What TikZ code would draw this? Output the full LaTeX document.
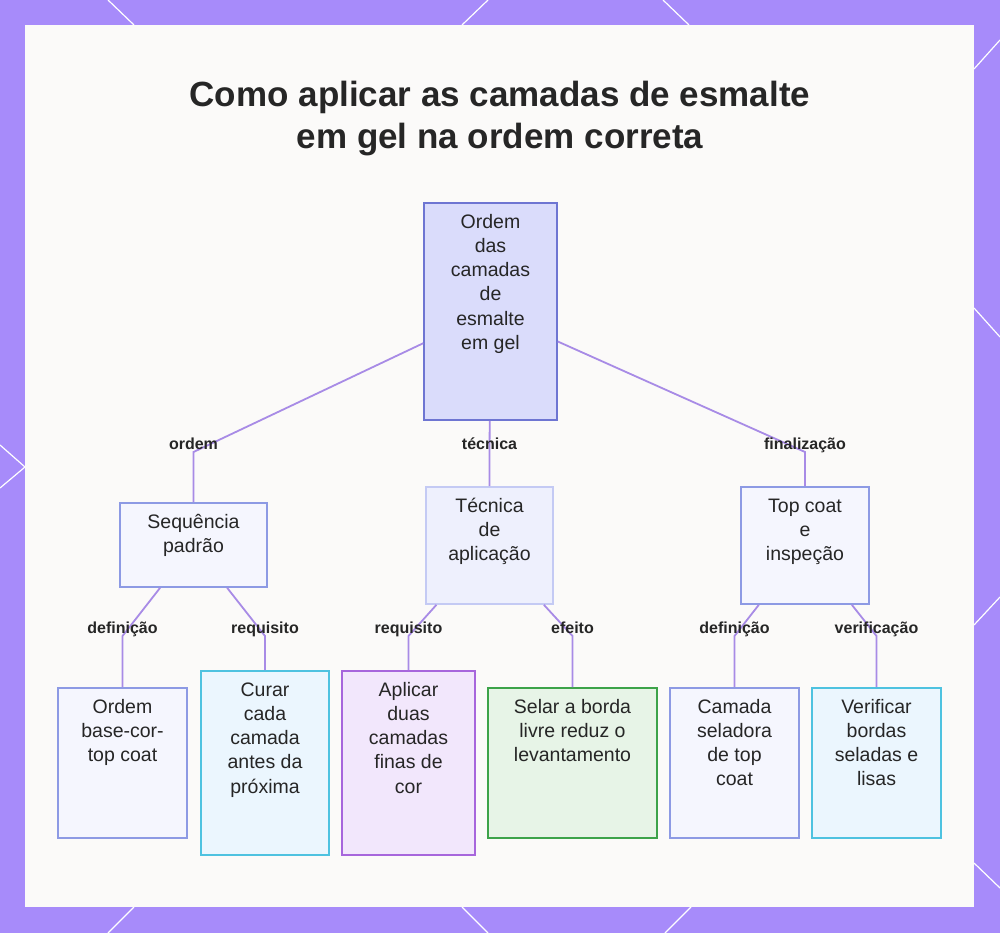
\documentclass[tikz,border=0pt]{standalone}
\usepackage{fontspec}
\setmainfont{Liberation Sans}
\usepackage{xcolor}
\usepackage{tikz}
\usetikzlibrary{positioning,calc}

\definecolor{bgpurple}{HTML}{A78BFA}
\definecolor{panel}{HTML}{FBFAF9}
\definecolor{ink}{HTML}{262626}
\definecolor{linkcol}{HTML}{A88BE6}
\definecolor{rootfill}{HTML}{DADCFB}
\definecolor{rootline}{HTML}{6E75D2}
\definecolor{bluefill}{HTML}{F5F6FE}
\definecolor{blueline}{HTML}{8D9AE4}
\definecolor{palefill}{HTML}{EEF0FD}
\definecolor{paleline}{HTML}{C4CAF4}
\definecolor{cyanfill}{HTML}{EBF6FE}
\definecolor{cyanline}{HTML}{4EC2E0}
\definecolor{violetfill}{HTML}{F2E7FC}
\definecolor{violetline}{HTML}{A766DC}
\definecolor{greenfill}{HTML}{E7F4E7}
\definecolor{greenline}{HTML}{3DA34A}

% text placed at the top of a box of fixed size
\newcommand{\boxtxt}[3]{\parbox[c][#2pt][t]{#1pt}{\centering\rule{0pt}{25pt}#3}}

\begin{document}
\begin{tikzpicture}[
  x=1pt, y=-1pt,
  font=\fontsize{19.5}{24.3}\selectfont,
  box/.style={rectangle, draw, line width=1.6pt, inner sep=0pt, text=ink},
  rootbox/.style={box, fill=rootfill, draw=rootline},
  bluebox/.style={box, fill=bluefill, draw=blueline},
  palebox/.style={box, fill=palefill, draw=paleline},
  cyanbox/.style={box, fill=cyanfill, draw=cyanline},
  violetbox/.style={box, fill=violetfill, draw=violetline},
  greenbox/.style={box, fill=greenfill, draw=greenline},
  lbl/.style={font=\fontsize{16}{18}\selectfont\bfseries, text=ink,
    text height=11.5pt, text depth=3.5pt, yshift=7pt},
  link/.style={draw=linkcol, line width=1.8pt},
  deco/.style={draw=white, line width=1.2pt}
]
\useasboundingbox (0,0) rectangle (1000,933);

% background and panel
\fill[bgpurple] (0,0) rectangle (1000,933);
\draw[deco] (108,0) -- (134,25);
\draw[deco] (488,0) -- (462,25);
\draw[deco] (663,0) -- (689,25);
\draw[deco] (1000,40) -- (974,69);
\draw[deco] (974,308) -- (1000,337);
\draw[deco] (1000,597) -- (974,625);
\draw[deco] (974,863) -- (1000,888);
\draw[deco] (0,445) -- (25,467) -- (0,488);
\draw[deco] (134,907) -- (108,933);
\draw[deco] (462,907) -- (488,933);
\draw[deco] (691,907) -- (665,933);
\fill[panel] (25,25) rectangle (974,907);

\node[font=\fontsize{35}{42}\selectfont\bfseries, text=ink, align=center] (title) at (500,119)
  {Como aplicar as camadas de esmalte\\em gel na ordem correta};

% main tree
\node[rootbox] (root) at (490.5,311.5) {\boxtxt{133}{217}{Ordem\\das\\camadas\\de\\esmalte\\em gel}};

\node[bluebox] (seq) at (193.5,545) {\boxtxt{147}{84}{Sequência\\padrão}};
\node[palebox] (tec) at (489.5,545.5) {\boxtxt{127}{117}{Técnica\\de\\aplicação}};
\node[bluebox] (top) at (805,545.5) {\boxtxt{128}{117}{Top coat\\e\\inspeção}};

\node[bluebox] (ordem) at (122.5,763) {\boxtxt{129}{150}{Ordem\\base-cor-\\top coat}};
\node[cyanbox] (curar) at (265,763) {\boxtxt{128}{184}{Curar\\cada\\camada\\antes da\\próxima}};
\node[violetbox] (aplicar) at (408.5,763) {\boxtxt{133}{184}{Aplicar\\duas\\camadas\\finas de\\cor}};
\node[greenbox] (selar) at (572.5,763) {\boxtxt{169}{150}{Selar a borda\\livre reduz o\\levantamento}};
\node[bluebox] (camada) at (734.5,763) {\boxtxt{129}{150}{Camada\\seladora\\de top\\coat}};
\node[cyanbox] (verif) at (876.5,763) {\boxtxt{129}{150}{Verificar\\bordas\\seladas e\\lisas}};

% connectors
\draw[link] (root) -- (seq |- 0,452) node[lbl] (lordem) {ordem} -- (seq);
\draw[link] (root) -- (tec |- 0,452) node[lbl] (ltec) {técnica} -- (tec);
\draw[link] (root) -- (top |- 0,452) node[lbl] (lfin) {finalização} -- (top);

\draw[link] (seq) -- (ordem |- 0,636) node[lbl] (ldef1) {definição} -- (ordem);
\draw[link] (seq) -- (curar |- 0,636) node[lbl] (lreq1) {requisito} -- (curar);
\draw[link] (tec) -- (aplicar |- 0,636) node[lbl] (lreq2) {requisito} -- (aplicar);
\draw[link] (tec) -- (selar |- 0,636) node[lbl] (lefe) {efeito} -- (selar);
\draw[link] (top) -- (camada |- 0,636) node[lbl] (ldef2) {definição} -- (camada);
\draw[link] (top) -- (verif |- 0,636) node[lbl] (lver) {verificação} -- (verif);
\end{tikzpicture}
\end{document}
